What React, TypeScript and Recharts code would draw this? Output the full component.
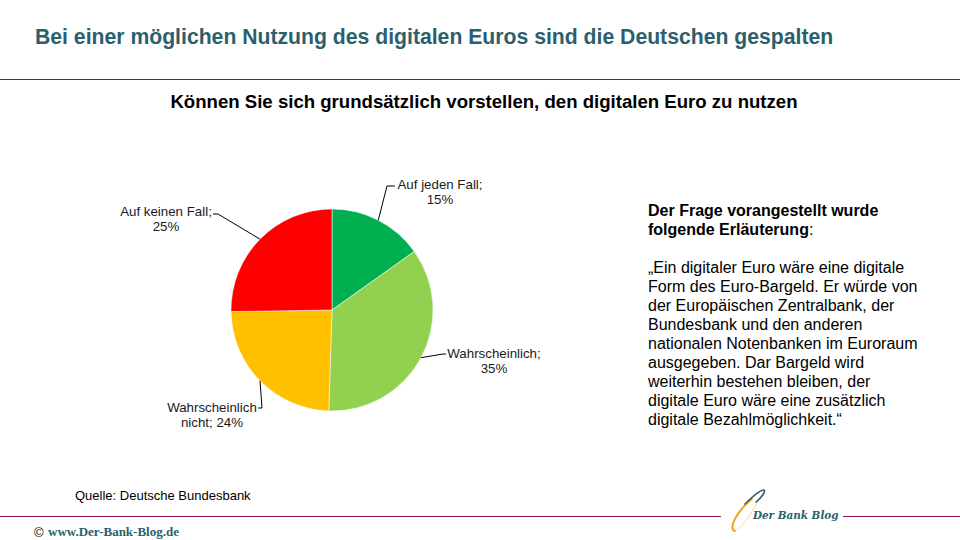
import React from 'react';
import { PieChart, Pie, Cell } from 'recharts';

const categories = ['Auf jeden Fall', 'Wahrscheinlich', 'Wahrscheinlich nicht', 'Auf keinen Fall'];
const shares = [15, 35, 24, 25];
const colors = ['#00B050', '#92D050', '#FFC000', '#FF0000'];
const labelLines: string[][] = [
  ['Auf jeden Fall;', '15%'],
  ['Wahrscheinlich;', '35%'],
  ['Wahrscheinlich', 'nicht; 24%'],
  ['Auf keinen Fall;', '25%'],
];

const title = 'Bei einer möglichen Nutzung des digitalen Euros sind die Deutschen gespalten';
const subtitle = 'Können Sie sich grundsätzlich vorstellen, den digitalen Euro zu nutzen';
const noteHead = ['Der Frage vorangestellt wurde', 'folgende Erläuterung'];
const noteBody = [
  '„Ein digitaler Euro wäre eine digitale',
  'Form des Euro-Bargeld. Er würde von',
  'der Europäischen Zentralbank,  der',
  'Bundesbank und den anderen',
  'nationalen Notenbanken im Euroraum',
  'ausgegeben. Dar Bargeld wird',
  'weiterhin bestehen bleiben, der',
  'digitale Euro wäre eine zusätzlich',
  'digitale Bezahlmöglichkeit.“',
];
const source = 'Quelle: Deutsche Bundesbank';

const data = categories.map((name, i) => ({ name, value: shares[i] }));

// label layout offsets relative to pie center (elbow x,y ; line end x ; text center x ; first baseline dy)
const labelLayout = [
  { ex: 55, ey: -124, hx: 63, tx: 108, ty: -121 },
  { ex: 111, ey: 44, hx: 114, tx: 162, ty: 48 },
  { ex: -70, ey: 98, hx: -74, tx: -120, ty: 102 },
  { ex: -114, ey: -96, hx: -119, tx: -166, ty: -94 },
];

const RAD = Math.PI / 180;
const font = "'Liberation Sans', Arial, sans-serif";

const renderLabel = (props: any) => {
  const { cx, cy, midAngle, outerRadius, index } = props;
  const L = labelLayout[index];
  const px = cx + outerRadius * Math.cos(-midAngle * RAD);
  const py = cy + outerRadius * Math.sin(-midAngle * RAD);
  const ex = cx + L.ex;
  const ey = cy + L.ey;
  const hx = cx + L.hx;
  const tx = cx + L.tx;
  const ty = cy + L.ty;
  const lines = labelLines[index];
  return (
    <g key={'lbl' + index}>
      <polyline points={`${px},${py} ${ex},${ey} ${hx},${ey}`} fill="none" stroke="#000" strokeWidth={1} />
      {lines.map((t, k) => (
        <text key={k} x={tx} y={ty + k * 15} textAnchor="middle" fontFamily={font} fontSize={13.3} fill="#1a1a1a">
          {t}
        </text>
      ))}
    </g>
  );
};

export default function App() {
  return (
    <div style={{ position: 'absolute', left: 0, top: 0, width: 960, height: 540, background: '#fff', overflow: 'hidden', fontFamily: font }}>
      <div style={{ position: 'absolute', left: 35, top: 25, fontSize: 21.2, fontWeight: 'bold', color: '#2B5F6D', whiteSpace: 'nowrap' }}>{title}</div>
      <div style={{ position: 'absolute', left: 0, top: 79, width: 960, height: 1, background: '#8E0F5E' }} />
      <div style={{ position: 'absolute', left: 0, width: 968, top: 91, textAlign: 'center', fontSize: 18.6, fontWeight: 'bold', color: '#000', whiteSpace: 'nowrap' }}>{subtitle}</div>

      <div style={{ position: 'absolute', left: 0, top: 0 }}>
        <PieChart width={960} height={540} margin={{ top: 0, right: 0, bottom: 0, left: 0 }}>
          <Pie
            data={data}
            dataKey="value"
            nameKey="name"
            cx={332}
            cy={310}
            outerRadius={101}
            startAngle={90}
            endAngle={-270}
            stroke="#ffffff"
            strokeWidth={0.5}
            label={renderLabel}
            labelLine={false}
            isAnimationActive={false}
          >
            {data.map((d, i) => (
              <Cell key={d.name} fill={colors[i]} />
            ))}
          </Pie>
        </PieChart>
      </div>

      <div style={{ position: 'absolute', left: 648, top: 201, fontSize: 16, color: '#000', lineHeight: '19px', whiteSpace: 'nowrap' }}>
        <div style={{ fontWeight: 'bold' }}>{noteHead[0]}</div>
        <div><span style={{ fontWeight: 'bold' }}>{noteHead[1]}</span>:</div>
        <div style={{ height: 19 }} />
        {noteBody.map((l, i) => (
          <div key={i}>{l}</div>
        ))}
      </div>

      <div style={{ position: 'absolute', left: 75, top: 488, fontSize: 13, color: '#000', whiteSpace: 'nowrap' }}>{source}</div>

      <svg width={960} height={540} style={{ position: 'absolute', left: 0, top: 0 }}>
        <line x1={0} y1={516.5} x2={721} y2={516.5} stroke="#8E0F5E" strokeWidth={1} />
        <line x1={843} y1={516.5} x2={960} y2={516.5} stroke="#8E0F5E" strokeWidth={1} />
        <path d="M 735 531 C 727 529, 738 510, 752 499" fill="none" stroke="#F7A21B" strokeWidth={2} strokeLinecap="round" />
        <path d="M 735 531 C 745 526, 756 505, 763 492" fill="none" stroke="#F7C36B" strokeWidth={0.7} />
        <path d="M 745 504 C 753 496, 760 490, 764 490 C 766 492, 761 498, 756 502" fill="none" stroke="#2B5F6D" strokeWidth={1.6} strokeLinecap="round" />
        <text x={753} y={519} fontFamily="'DejaVu Serif', 'Liberation Serif', serif" fontStyle="italic" fontWeight="bold" fontSize={10.4} fill="#2B5F6D">Der Bank Blog</text>
        <text x={34} y={537} fontFamily={font} fontSize={13} fill="#000">©</text>
        <text x={48} y={536} fontFamily="'Liberation Serif', serif" fontWeight="bold" fontSize={13} fill="#2B5F6D">www.Der-Bank-Blog.de</text>
      </svg>
    </div>
  );
}
